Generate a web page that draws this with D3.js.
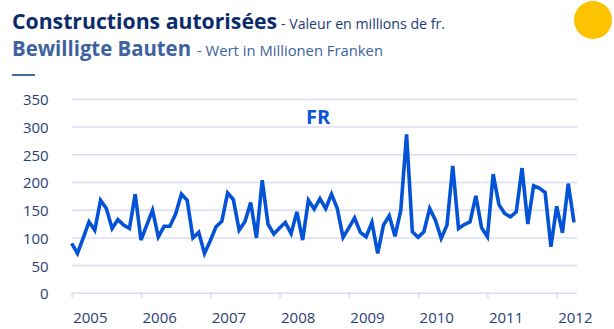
<!DOCTYPE html>
<html>
<head>
<meta charset="utf-8">
<script src="https://cdn.jsdelivr.net/npm/d3@7"></script>
<style>
  html, body { margin: 0; padding: 0; background: #fff; }
  svg { display: block; }
  text { font-family: "Open Sans", "Noto Sans", sans-serif; }
</style>
</head>
<body>
<svg id="chart" width="614" height="329"></svg>
<script>
// Monthly value of authorised constructions, canton FR (millions CHF), Jan 2005 – Apr 2012
const values = [
  90, 72, 100, 129, 114, 168, 153, 117, 133, 123, 117, 179,
  96, 123, 150, 102, 121, 121, 143, 179, 168, 100, 110, 72,
  95, 120, 130, 181, 169, 114, 129, 164, 100, 204, 125, 107,
  118, 128, 108, 147, 96, 168, 152, 171, 153, 179, 153, 101,
  118, 136, 110, 102, 128, 72, 123, 140, 103, 150, 287, 111,
  101, 111, 153, 132, 99, 123, 230, 117, 124, 129, 176, 118,
  102, 215, 160, 144, 138, 147, 226, 125, 194, 190, 182, 84,
  157, 109, 198, 128
];
const years = ["2005", "2006", "2007", "2008", "2009", "2010", "2011", "2012"];
const yTicks = [0, 50, 100, 150, 200, 250, 300, 350];
const seriesLabel = "FR";

const svg = d3.select("#chart");

const x = d3.scaleLinear().domain([0, values.length - 1]).range([71.7, 574]);
const y = d3.scaleLinear().domain([0, 350]).range([293.3, 99.4]);
const gridRight = 577;

// Header
const head = svg.append("g");
function titleLine(parts, baseline) {
  let cx = 12;
  parts.forEach(p => {
    head.append("text")
      .attr("x", cx).attr("y", baseline)
      .attr("font-size", p.size).attr("font-weight", p.weight)
      .attr("fill", p.color)
      .attr("textLength", p.width).attr("lengthAdjust", "spacingAndGlyphs")
      .text(p.text);
    cx += p.width + p.gap;
  });
}
titleLine([
  { text: "Constructions autorisées", size: 20.5, weight: 700, color: "#0b2c6b", width: 265, gap: 4 },
  { text: "- Valeur en millions de fr.", size: 15, weight: 400, color: "#1d3a77", width: 164, gap: 0 }
], 29);
titleLine([
  { text: "Bewilligte Bauten", size: 20.5, weight: 700, color: "#3c63a0", width: 179, gap: 6 },
  { text: "- Wert in Millionen Franken", size: 15, weight: 400, color: "#3c63a0", width: 186, gap: 0 }
], 56);
head.append("line")
  .attr("x1", 12).attr("x2", 35).attr("y1", 75).attr("y2", 75)
  .attr("stroke", "#4a6ca3").attr("stroke-width", 2);
head.append("circle")
  .attr("cx", 593).attr("cy", 20).attr("r", 19)
  .attr("fill", "#fdc300");

// Horizontal gridlines
svg.append("g").selectAll("line")
  .data(yTicks).join("line")
  .attr("x1", x(0)).attr("x2", gridRight)
  .attr("y1", d => y(d)).attr("y2", d => y(d))
  .attr("stroke", "#dcdcf6").attr("stroke-width", 1.5);

// Y axis labels
const yAxis = d3.axisLeft(y).tickValues(yTicks).tickSize(0).tickPadding(23);
const gy = svg.append("g").attr("transform", `translate(${x(0)},0)`).call(yAxis);
gy.select(".domain").remove();
gy.selectAll("text")
  .attr("font-size", 15).attr("fill", "#2a3d77")
  .attr("font-family", "'Open Sans', 'Noto Sans', sans-serif")
  .attr("dy", "0.36em");

// X axis: year ticks hanging below the baseline, labels start at each tick
const xAxis = d3.axisBottom(x)
  .tickValues(years.map((_, i) => i * 12))
  .tickFormat((d, i) => years[i])
  .tickSize(5).tickSizeOuter(0).tickPadding(14);
const gx = svg.append("g").attr("transform", `translate(0,${y(0)})`).call(xAxis);
gx.select(".domain").remove();
gx.selectAll(".tick line").attr("stroke", "#dcdcf6").attr("stroke-width", 1.5);
gx.selectAll("text")
  .attr("font-size", 15).attr("fill", "#2a3d77")
  .attr("font-family", "'Open Sans', 'Noto Sans', sans-serif")
  .attr("text-anchor", "start").attr("x", 1);

// Series line
const line = d3.line().x((d, i) => x(i)).y(d => y(d));
svg.append("path")
  .datum(values)
  .attr("d", line)
  .attr("fill", "none")
  .attr("stroke", "#0453d6")
  .attr("stroke-width", 3.6)
  .attr("stroke-linejoin", "miter");

svg.append("text")
  .attr("x", 318).attr("y", 124)
  .attr("text-anchor", "middle")
  .attr("font-size", 20).attr("font-weight", 700)
  .attr("fill", "#0c55d6")
  .text(seriesLabel);
</script>
</body>
</html>
